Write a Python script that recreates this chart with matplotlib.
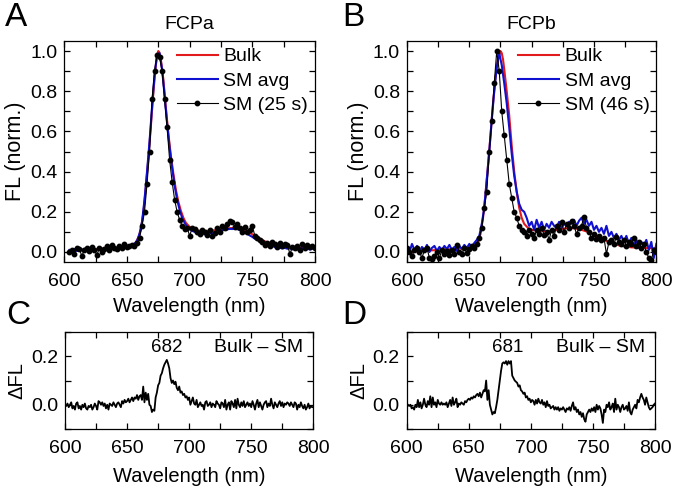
import numpy as np
import matplotlib
matplotlib.use("Agg")
import matplotlib.pyplot as plt
from matplotlib.ticker import MultipleLocator

plt.rcParams['font.family'] = ['Liberation Sans', 'DejaVu Sans']

# ---------------- Panel A (FCPa) ----------------
a_bulk_wl = [604, 610, 620, 630, 640, 648, 652, 655, 657, 659, 661, 663, 665, 667, 669, 671, 673, 674,
             675, 676, 677, 679, 681, 683, 685, 687, 689, 691, 693, 695, 697, 700, 703, 706, 710, 715,
             720, 725, 730, 735, 740, 745, 750, 755, 760, 765, 770, 775, 780, 790, 800]
a_bulk = [0.005, 0.008, 0.012, 0.016, 0.02, 0.025, 0.03, 0.038, 0.048, 0.07, 0.11, 0.19, 0.32, 0.46,
          0.62, 0.79, 0.93, 0.98, 1.0, 0.99, 0.96, 0.86, 0.72, 0.59, 0.48, 0.39, 0.31, 0.25, 0.205,
          0.17, 0.145, 0.125, 0.113, 0.107, 0.104, 0.105, 0.108, 0.112, 0.117, 0.12, 0.116, 0.105,
          0.088, 0.07, 0.053, 0.04, 0.032, 0.027, 0.024, 0.021, 0.02]

a_wl = np.arange(604, 801, 2)
a_smavg = [0.01, 0.0, 0.015, 0.005, 0.012, 0.008, 0.016, 0.01, 0.014, 0.006,      # 604-622
           0.012, 0.01, 0.018, 0.012, 0.02, 0.015, 0.02, 0.016, 0.022, 0.018,      # 624-642
           0.025, 0.022, 0.026, 0.03, 0.032, 0.036, 0.04, 0.055, 0.09, 0.15,        # 644-662
           0.26, 0.40, 0.55, 0.72, 0.88, 0.98, 0.99, 0.91, 0.78, 0.64,             # 664-682
           0.52, 0.42, 0.33, 0.26, 0.21, 0.17, 0.145, 0.125, 0.115, 0.105,         # 684-702
           0.1, 0.095, 0.092, 0.09, 0.088, 0.092, 0.095, 0.092, 0.1, 0.098,        # 704-722
           0.104, 0.108, 0.11, 0.112, 0.115, 0.114, 0.118, 0.113, 0.11, 0.105,     # 724-742
           0.098, 0.09, 0.082, 0.075, 0.066, 0.06, 0.052, 0.048, 0.042, 0.036,     # 744-762
           0.032, 0.03, 0.024, 0.022, 0.02, 0.018, 0.02, 0.016, 0.018, 0.014,      # 764-782
           0.016, 0.012, 0.015, 0.018, 0.014, 0.016, 0.012, 0.018, 0.015]          # 784-800
a_sm25 = [0.0, 0.01, -0.01, 0.02, 0.015, -0.02, 0.01, 0.02, 0.005, 0.025,           # 604-622
          0.01, -0.015, 0.02, 0.0, 0.015, 0.03, 0.01, 0.035, 0.02, 0.015,          # 624-642
          0.03, 0.02, 0.04, 0.025, 0.03, 0.035, 0.03, 0.045, 0.07, 0.13,           # 644-662
          0.2, 0.34, 0.5, 0.76, 0.9, 0.98, 0.97, 0.9, 0.76, 0.62,                  # 664-682
          0.46, 0.35, 0.26, 0.2, 0.16, 0.13, 0.115, 0.12, 0.08, 0.12,              # 684-702
          0.115, 0.1, 0.09, 0.11, 0.1, 0.085, 0.11, 0.08, 0.095, 0.12,             # 704-722
          0.1, 0.13, 0.12, 0.14, 0.155, 0.15, 0.125, 0.14, 0.12, 0.1,              # 724-742
          0.125, 0.1, 0.11, 0.13, 0.08, 0.07, 0.06, 0.05, 0.035, 0.045,            # 744-762
          0.03, 0.05, 0.04, 0.025, 0.045, 0.03, 0.04, 0.035, -0.01, 0.025,         # 764-782
          0.02, 0.03, 0.01, 0.04, 0.02, 0.035, 0.025, 0.03, 0.02]                  # 784-800

# ---------------- Panel B (FCPb) ----------------
b_bulk_wl = [600, 605, 610, 620, 630, 640, 648, 652, 655, 657, 659, 661, 663, 665, 667, 669, 671, 673,
             675, 676, 677, 678, 680, 682, 684, 686, 688, 690, 692, 694, 697, 700, 705, 710, 715, 720,
             725, 730, 735, 740, 745, 750, 755, 760, 765, 770, 775, 780, 790, 800]
b_bulk = [0.0, 0.0, 0.005, 0.008, 0.012, 0.016, 0.02, 0.025, 0.035, 0.05, 0.09, 0.17, 0.29, 0.43,
          0.58, 0.74, 0.87, 0.96, 1.0, 0.99, 0.96, 0.91, 0.8, 0.68, 0.53, 0.4, 0.3, 0.22, 0.17, 0.14,
          0.12, 0.11, 0.105, 0.103, 0.105, 0.11, 0.115, 0.12, 0.118, 0.11, 0.1, 0.085, 0.07, 0.055,
          0.042, 0.033, 0.027, 0.023, 0.02, 0.018]

b_wl = np.arange(600, 801, 2)
b_smavg = [0.02, 0.0, 0.04, 0.01, 0.03, -0.005, 0.025, 0.01, 0.035, 0.0,            # 600-618
           0.02, 0.03, 0.005, 0.025, 0.01, 0.03, 0.015, 0.035, 0.01, 0.025,         # 620-638
           0.005, 0.03, 0.015, 0.035, 0.02, 0.04, 0.025, 0.045, 0.06, 0.08,         # 640-658
           0.14, 0.22, 0.36, 0.5, 0.66, 0.8, 0.92, 0.99, 0.93, 0.84,                # 660-678
           0.74, 0.62, 0.49, 0.38, 0.3, 0.24, 0.21, 0.2, 0.17, 0.13,                # 680-698
           0.15, 0.11, 0.16, 0.12, 0.15, 0.11, 0.14, 0.12, 0.15, 0.13,              # 700-718
           0.12, 0.15, 0.12, 0.14, 0.13, 0.15, 0.14, 0.16, 0.13, 0.155,             # 720-738
           0.17, 0.14, 0.16, 0.13, 0.15, 0.11, 0.13, 0.1, 0.12, 0.09,               # 740-758
           0.13, 0.08, 0.1, 0.07, 0.09, 0.06, 0.08, 0.05, 0.08, 0.04,               # 760-778
           0.07, 0.03, 0.06, 0.02, 0.05, 0.03, 0.06, 0.01, 0.05, -0.03,             # 780-798
           0.04]                                                                    # 800
b_sm46 = [0.02, 0.0, -0.02, 0.01, 0.02, 0.0, -0.03, 0.01, 0.02, -0.03,               # 600-618
          -0.035, -0.02, 0.0, -0.03, 0.01, -0.01, 0.005, -0.015, 0.01, -0.01,       # 620-638
          0.035, 0.0, -0.01, 0.02, -0.005, 0.015, 0.03, 0.02, 0.04, 0.07,           # 640-658
          0.12, 0.22, 0.3, 0.5, 0.65, 0.84, 1.0, 0.9, 0.7, 0.58,                    # 660-678
          0.46, 0.34, 0.27, 0.2, 0.17, 0.13, 0.11, 0.1, 0.08, 0.11,                 # 680-698
          0.09, 0.07, 0.11, 0.09, 0.12, 0.085, 0.1, 0.06, 0.11, 0.08,               # 700-718
          0.13, 0.11, 0.15, 0.1, 0.14, 0.12, 0.155, 0.13, 0.09, 0.12,               # 720-738
          0.13, 0.175, 0.12, 0.1, 0.07, 0.09, 0.065, 0.08, 0.06, 0.07,              # 740-758
          -0.01, 0.05, 0.06, 0.04, 0.075, 0.05, 0.04, 0.06, 0.03, 0.05,             # 760-778
          0.04, 0.07, 0.03, 0.05, 0.02, 0.04, 0.0, -0.03, -0.04, 0.01,              # 780-798
          0.0]                                                                      # 800

# ---------------- Panel C (FCPa difference) ----------------
c_wl = np.arange(600, 801, 1)
c_dfl = [0.0, -0.005, 0.005, -0.01, 0.0, 0.01, -0.015, -0.005, -0.02, 0.005,
         0.01, -0.015, -0.005, -0.02, 0.0, -0.01, 0.005, -0.015, -0.02, -0.005,
         -0.01, 0.0, -0.02, -0.01, 0.005, -0.005, -0.02, 0.015, 0.01, 0.0,
         0.01, -0.005, 0.005, -0.015, 0.0, -0.02, 0.005, 0.0, -0.005, 0.01,
         0.0, -0.01, 0.005, 0.01, 0.0, -0.01, 0.015, 0.005, 0.02, 0.01,
         0.015, 0.025, 0.01, 0.02, 0.03, 0.015, 0.03, 0.025, 0.04, 0.02,
         0.035, 0.04, 0.02, 0.075, 0.01, 0.05, 0.02, 0.045, 0.0, -0.005,
         -0.03, -0.02, -0.025, 0.03, 0.05, 0.08, 0.09, 0.12, 0.13, 0.15,
         0.165, 0.175, 0.185, 0.17, 0.15, 0.11, 0.09, 0.1, 0.085, 0.095,
         0.07, 0.06, 0.075, 0.05, 0.055, 0.04, 0.045, 0.03, 0.035, 0.02,
         0.03, 0.0, 0.015, 0.03, 0.005, 0.0, 0.02, -0.01, 0.0, 0.01,
         -0.005, 0.0, -0.02, 0.01, 0.015, -0.005, 0.0, 0.01, -0.01, 0.005,
         0.0, -0.01, 0.015, 0.005, 0.0, -0.015, 0.01, 0.005, -0.01, 0.02,
         -0.02, 0.0, 0.01, -0.02, 0.015, 0.005, -0.01, 0.02, -0.015, 0.025,
         0.0, -0.01, 0.01, -0.005, 0.015, -0.01, 0.0, 0.01, -0.005, 0.005,
         -0.01, 0.015, 0.0, -0.02, 0.005, 0.02, -0.01, 0.01, -0.005, -0.02,
         0.0, 0.01, 0.015, -0.01, 0.005, -0.005, 0.025, 0.0, -0.015, 0.01,
         0.0, -0.01, 0.005, 0.015, -0.005, 0.01, -0.01, 0.005, 0.0, 0.01,
         0.005, -0.005, 0.01, 0.0, -0.01, 0.01, 0.005, -0.02, 0.0, -0.01,
         0.01, -0.005, -0.015, 0.0, -0.02, -0.01, 0.005, -0.015, -0.005, -0.01,
         -0.01]

# ---------------- Panel D (FCPb difference) ----------------
d_wl = np.arange(601, 801, 1)
d_dfl = [0.0, -0.005, 0.0, -0.015, -0.01, -0.02, 0.0, -0.01, 0.02, -0.01,
         0.01, -0.015, 0.0, 0.025, 0.0, -0.01, 0.015, 0.0, 0.035, -0.01,
         0.03, 0.0, 0.01, -0.01, 0.02, 0.005, 0.0, 0.01, 0.0, 0.005,
         0.0, 0.01, -0.01, 0.005, 0.02, -0.005, 0.03, 0.0, 0.01, 0.025,
         -0.01, 0.005, 0.0, 0.01, 0.005, 0.0, 0.015, 0.01, 0.02, 0.025,
         0.02, 0.03, 0.025, 0.035, 0.03, 0.04, 0.045, 0.035, 0.05, 0.03,
         0.045, 0.06, 0.055, 0.1, 0.02, 0.06, 0.0, -0.02, -0.04, -0.03,
         -0.035, -0.01, 0.02, 0.06, 0.1, 0.14, 0.17, 0.175, 0.17, 0.18,
         0.165, 0.18, 0.17, 0.18, 0.12, 0.11, 0.1, 0.095, 0.09, 0.075,
         0.08, 0.06, 0.055, 0.045, 0.05, 0.03, 0.035, 0.02, 0.025, 0.01,
         0.02, 0.015, 0.0, 0.02, 0.005, 0.025, 0.01, 0.005, 0.02, 0.0,
         0.01, -0.01, 0.015, -0.005, 0.0, -0.015, -0.01, -0.005, -0.02, -0.01,
         -0.02, -0.01, -0.025, -0.015, -0.02, -0.01, -0.02, -0.03, -0.015, -0.02,
         -0.01, -0.025, -0.005, 0.01, -0.02, -0.01, -0.03, -0.02, -0.04, -0.03,
         -0.05, -0.035, -0.06, -0.07, -0.04, -0.03, -0.02, -0.03, -0.015, -0.025,
         -0.01, -0.03, 0.0, -0.02, -0.005, -0.015, -0.04, -0.075, -0.02, -0.03,
         0.0, -0.01, 0.01, -0.02, -0.01, 0.005, -0.03, 0.025, -0.02, 0.0,
         -0.01, -0.03, -0.01, 0.0, -0.02, -0.015, -0.005, -0.025, 0.01, -0.03,
         -0.04, -0.02, -0.01, 0.0, -0.015, 0.02, 0.01, 0.03, 0.045, 0.03,
         0.02, 0.0, 0.03, 0.01, -0.01, -0.02, -0.015, -0.01, 0.0, 0.005]

titles = ["FCPa", "FCPb"]
sm_labels = ["SM (25 s)", "SM (46 s)"]
peak_labels = ["682", "681"]
peak_pos = [682, 681.5]

W, H = 677, 491
fig = plt.figure(figsize=(W / 100, H / 100), dpi=100)

def px_axes(l, t, r, b):
    return fig.add_axes([l / W, 1 - b / H, (r - l) / W, (b - t) / H])

FS = 14

def style(ax, ymaj, ymin, xlpad):
    ax.set_xlim(600, 800)
    ax.xaxis.set_major_locator(MultipleLocator(50))
    ax.xaxis.set_minor_locator(MultipleLocator(25))
    ax.yaxis.set_major_locator(MultipleLocator(ymaj))
    ax.yaxis.set_minor_locator(MultipleLocator(ymin))
    for which in ("major", "minor"):
        ax.tick_params(axis="both", which=which, direction="in", top=True, right=True,
                       length=4.5, width=0.9, labelsize=FS)
    ax.tick_params(axis="x", which="major", pad=8)
    ax.tick_params(axis="y", which="major", pad=5)
    for s in ax.spines.values():
        s.set_linewidth(0.9)
    ax.set_xlabel("Wavelength (nm)", fontsize=14.5, labelpad=xlpad)

axA = px_axes(64.3, 41, 315, 262)
axB = px_axes(407, 41, 656.3, 262)
axC = px_axes(65, 332, 313.3, 429)
axD = px_axes(406.7, 332, 655, 429)

top_axes = [axA, axB]
bulk_wls = [a_bulk_wl, b_bulk_wl]
bulks = [a_bulk, b_bulk]
wls = [a_wl, b_wl]
avgs = [a_smavg, b_smavg]
sms = [a_sm25, b_sm46]

for i, ax in enumerate(top_axes):
    ax.plot(bulk_wls[i], bulks[i], color="#e31a1c", lw=1.5, label="Bulk", zorder=2)
    ax.plot(wls[i], avgs[i], color="#1010d0", lw=1.5, label="SM avg", zorder=3)
    ax.plot(wls[i], sms[i], color="black", lw=0.8, marker="o", ms=3.2, label=sm_labels[i], zorder=4)
    style(ax, 0.2, 0.1, 5)
    ax.set_ylim(-0.05, 1.05)
    ax.set_yticks([0.0, 0.2, 0.4, 0.6, 0.8, 1.0])
    ax.set_yticklabels(["0.0", "0.2", "0.4", "0.6", "0.8", "1.0"])
    ax.set_ylabel("FL (norm.)", fontsize=15.5, labelpad=3)
    ax.set_title(titles[i], fontsize=14, pad=9)
    ax.legend(loc="upper right", frameon=False, fontsize=FS, handlelength=2.1,
              handletextpad=0.3, labelspacing=0.35, borderaxespad=0.1, borderpad=0.25)

bot_axes = [axC, axD]
dwls = [c_wl, d_wl]
dfls = [c_dfl, d_dfl]
for i, ax in enumerate(bot_axes):
    ax.plot(dwls[i], dfls[i], color="black", lw=1.3)
    style(ax, 0.2, 0.1, 7)
    ax.set_ylim(-0.1, 0.3)
    ax.set_yticks([0.0, 0.2])
    ax.set_yticklabels(["0.0", "0.2"])
    ax.set_ylabel("ΔFL", fontsize=14.5, labelpad=3)
    ax.text(peak_pos[i], 0.235, peak_labels[i], fontsize=13.5, ha="center", va="center")
    ax.text(792, 0.235, "Bulk – SM", fontsize=14, ha="right", va="center")

for lab, x, y in [("A", 5, 18), ("B", 342, 18), ("C", 6, 315), ("D", 342, 315)]:
    fig.text(x / W, 1 - y / H, lab, fontsize=24, ha="left", va="center")

fig.savefig("out.png", dpi=100)
